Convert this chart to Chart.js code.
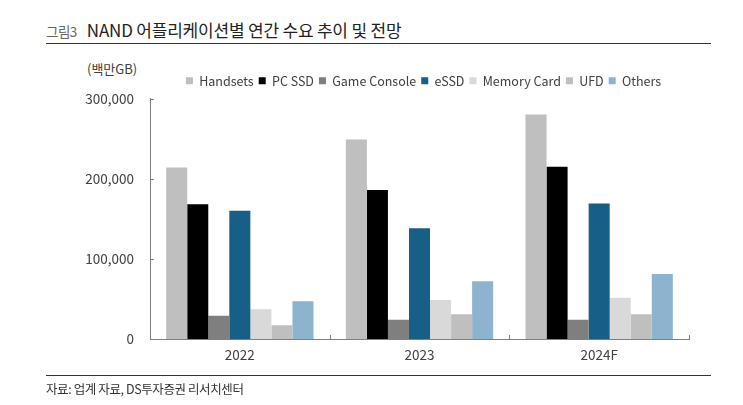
<!DOCTYPE html>
<html>
<head>
<meta charset="utf-8">
<script src="https://cdn.jsdelivr.net/npm/chart.js@4"></script>
<style>
    body { margin: 0; background: #fff; font-family: "Noto Sans CJK KR", "Noto Sans", sans-serif; }
    #wrap { position: relative; width: 743px; height: 405px; overflow: hidden; }
    #chartBox { position: absolute; left: 0; top: 0; width: 743px; height: 405px; }
    .title { position: absolute; left: 46px; top: 20px; line-height: 20px; white-space: nowrap; color: #222; font-size: 17px; letter-spacing: -0.2px; }
    .title small { color: #666; font-size: 13.5px; margin-right: 10px; letter-spacing: -0.5px; }
    .rule { position: absolute; left: 46px; width: 665px; height: 0; border-top: 1.5px solid #333; }
    .unit { position: absolute; left: 87px; top: 59px; font-size: 13px; color: #404040; }
    .source { position: absolute; left: 46px; top: 379px; font-size: 12.5px; color: #333; letter-spacing: -0.4px; }
</style>
</head>
<body>
<div id="wrap">
    <div class="title"><small>그림3</small>NAND 어플리케이션별 연간 수요 추이 및 전망</div>
    <div class="rule" style="top:43px"></div>
    <div class="unit">(백만GB)</div>
    <div id="chartBox"><canvas id="nand"></canvas></div>
    <div class="rule" style="top:374.5px"></div>
    <div class="source">자료: 업계 자료, DS투자증권 리서치센터</div>
</div>
<script>
var years = ["2022", "2023", "2024F"];
var handsets = [214000, 249000, 280000];
var pcSsd = [168000, 186000, 215000];
var gameConsole = [29000, 24000, 24000];
var eSsd = [160000, 138000, 169000];
var memoryCard = [37000, 48500, 51500];
var ufd = [17000, 31000, 31000];
var others = [47000, 72000, 81000];

// small tick marks drawn inside the axes, like the original
var innerTicks = {
    id: "innerTicks",
    afterDraw: function (chart) {
        var c = chart.ctx;
        var x = chart.scales.x;
        var y = chart.scales.y;
        c.save();
        c.strokeStyle = "#808080";
        c.lineWidth = 1;
        y.ticks.forEach(function (t) {
            var py = Math.round(y.getPixelForValue(t.value)) + 0.5;
            c.beginPath();
            c.moveTo(x.left, py);
            c.lineTo(x.left + 4, py);
            c.stroke();
        });
        var step = (x.right - x.left) / years.length;
        for (var i = 0; i <= years.length; i++) {
            var px = Math.round(x.left + step * i) + 0.5;
            c.beginPath();
            c.moveTo(px, y.bottom);
            c.lineTo(px, y.bottom - 4);
            c.stroke();
        }
        c.restore();
    },
};

// legend sits right of centre in the original, and the plot starts a bit lower
var legendTweak = {
    id: "legendTweak",
    beforeInit: function (chart) {
        var lg = chart.legend;
        var fit = lg.fit;
        lg.fit = function () {
            fit.call(this);
            this.height += 5;
        };
        var draw = lg.draw;
        lg.draw = function () {
            this.ctx.save();
            this.ctx.translate(39, 3.5);
            draw.call(this);
            this.ctx.restore();
        };
    },
};

var ctx = document.getElementById("nand");
var myChart = new Chart(ctx, {
    type: "bar",
    data: {
        labels: years,
        datasets: [
            { label: "Handsets", data: handsets, backgroundColor: "#bfbfbf" },
            { label: "PC SSD", data: pcSsd, backgroundColor: "#000000" },
            { label: "Game Console", data: gameConsole, backgroundColor: "#7f7f7f" },
            { label: "eSSD", data: eSsd, backgroundColor: "#175f86" },
            { label: "Memory Card", data: memoryCard, backgroundColor: "#d9d9d9" },
            { label: "UFD", data: ufd, backgroundColor: "#bfbfbf" },
            { label: "Others", data: others, backgroundColor: "#8db4cf" },
        ],
    },
    options: {
        responsive: true,
        maintainAspectRatio: false,
        animation: false,
        datasets: {
            bar: { categoryPercentage: 0.82, barPercentage: 1.0 },
        },
        layout: {
            padding: { left: 80, right: 54, top: 66, bottom: 36 },
        },
        plugins: {
            legend: {
                position: "top",
                labels: {
                    boxWidth: 7,
                    boxHeight: 7,
                    padding: 5,
                    color: "#404040",
                    font: { family: "'Noto Sans CJK KR', 'Noto Sans', sans-serif", size: 12.5 },
                },
            },
            tooltip: { enabled: false },
        },
        scales: {
            x: {
                grid: { display: false, drawTicks: false },
                border: { display: true, color: "#808080", width: 1 },
                ticks: {
                    padding: 8,
                    color: "#404040",
                    font: { family: "'Noto Sans CJK KR', 'Noto Sans', sans-serif", size: 13.5 },
                },
                afterFit: function (scale) { scale.height = 30; },
            },
            y: {
                min: 0,
                max: 300000,
                grid: { display: false, drawTicks: false },
                border: { display: true, color: "#808080", width: 1 },
                ticks: {
                    stepSize: 100000,
                    padding: 16,
                    color: "#404040",
                    font: { family: "'Noto Sans CJK KR', 'Noto Sans', sans-serif", size: 13.5 },
                    callback: function (v) { return v.toLocaleString("en-US"); },
                },
                afterFit: function (scale) { scale.width = 70; },
            },
        },
    },
    plugins: [innerTicks, legendTweak],
});
</script>
</body>
</html>
